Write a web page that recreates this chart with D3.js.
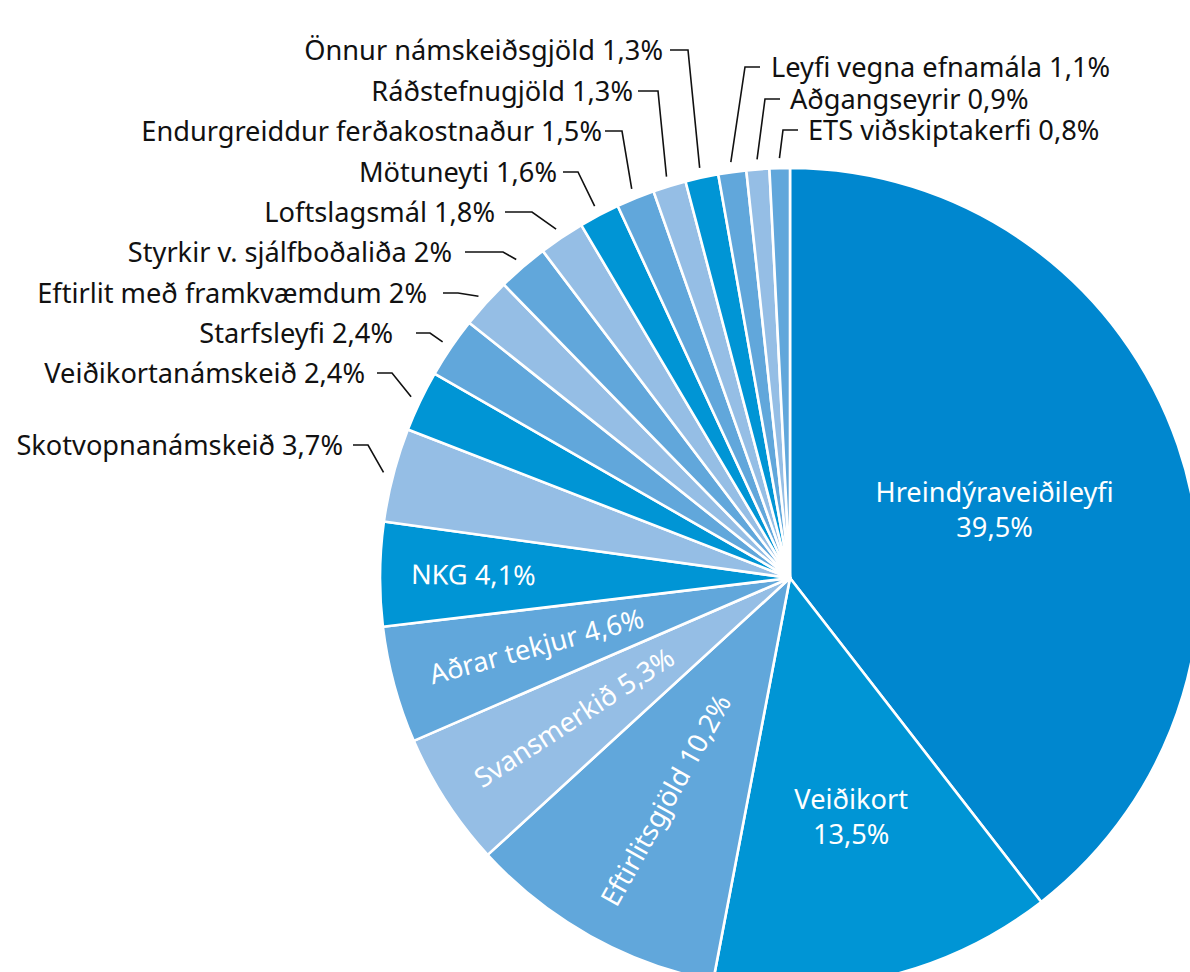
<html>
<head>
<meta charset="utf-8">
<script src="https://cdn.jsdelivr.net/npm/d3@7"></script>
<style>
  body { margin: 0; background: #fff; }
  text { font-family: "Noto Sans", "Open Sans", sans-serif; }
</style>
</head>
<body>
<svg id="chart" width="1190" height="972"></svg>
<script>

// slices, clockwise from 12 o'clock
var names = ["Hreindýraveiðileyfi", "Veiðikort", "Eftirlitsgjöld", "Svansmerkið", "Aðrar tekjur",
  "NKG", "Skotvopnanámskeið", "Veiðikortanámskeið", "Starfsleyfi", "Eftirlit með framkvæmdum",
  "Styrkir v. sjálfboðaliða", "Loftslagsmál", "Mötuneyti", "Endurgreiddur ferðakostnaður",
  "Ráðstefnugjöld", "Önnur námskeiðsgjöld", "Leyfi vegna efnamála", "Aðgangseyrir", "ETS viðskiptakerfi"];
var values = [39.5, 13.5, 10.2, 5.3, 4.6, 4.1, 3.7, 2.4, 2.4, 2, 2, 1.8, 1.6, 1.5, 1.3, 1.3, 1.1, 0.9, 0.8];
var shades = ["top", "dark", "mid", "light", "mid", "dark", "light", "dark", "mid", "light",
  "mid", "light", "dark", "mid", "light", "dark", "mid", "light", "mid"];

var color = d3.scaleOrdinal()
  .domain(["top", "dark", "mid", "light"])
  .range(["#0087cf", "#0095d5", "#61a7db", "#95bee5"]);

var fmt = function(v) { return String(v).replace(".", ",") + "%"; };

var cx = 790, cy = 578, radius = 410;
var fontSize = "27.2px";

var data = names.map(function(n, i) { return {name: n, value: values[i], shade: shades[i]}; });

var pie = d3.pie().sort(null).value(function(d) { return d.value; });
var arcs = pie(data);
var arc = d3.arc().innerRadius(0).outerRadius(radius);

var svg = d3.select("#chart");
var g = svg.append("g").attr("transform", "translate(" + cx + "," + cy + ")");

g.selectAll("path")
  .data(arcs)
  .enter()
  .append("path")
    .attr("d", arc)
    .style("fill", function(d) { return color(d.data.shade); })
    .style("stroke", "#fff")
    .style("stroke-width", 2.6)
    .style("stroke-linejoin", "round");

function polar(r, a) { return [r * Math.sin(a), -r * Math.cos(a)]; }
function mid(d) { return (d.startAngle + d.endAngle) / 2; }

// big slices: two centred lines
var twoLine = {0: {r: 212, ox: 4, oy: 10}, 1: {r: 262, ox: 0, oy: -6}};
Object.keys(twoLine).forEach(function(k) {
  var d = arcs[k], o = twoLine[k];
  var p = polar(o.r, mid(d));
  var t = g.append("text")
    .attr("transform", "translate(" + (p[0] + o.ox) + "," + (p[1] + o.oy) + ")")
    .style("fill", "#fff")
    .style("font-size", fontSize)
    .style("text-anchor", "middle");
  t.append("tspan").attr("x", 0).attr("y", -17.5).text(d.data.name);
  t.append("tspan").attr("x", 0).attr("y", 17.5).text(fmt(d.data.value));
});

// mid slices: text along the radius, reading inwards
[2, 3, 4, 5].forEach(function(i) {
  var d = arcs[i];
  var a = mid(d);
  var r = i == 5 ? 379 : 373;
  var p = polar(r, a);
  g.append("text")
    .attr("transform", "translate(" + p[0] + "," + p[1] + ") rotate(" + (a * 180 / Math.PI - 270) + ")")
    .attr("dy", "0.35em")
    .style("fill", "#fff")
    .style("font-size", fontSize)
    .text(d.data.name + " " + fmt(d.data.value));
});

// small slices: outside labels with leader lines
// [slice, text x, baseline y, line start x, elbow x]
var outside = [
  [6, 343, 455, 353, 368],
  [7, 365, 383, 377, 392],
  [8, 393, 343, 416, 430],
  [9, 427, 303, 443, 458],
  [10, 452, 262, 465, 503],
  [11, 495, 222, 505, 532],
  [12, 557, 182, 563, 578],
  [13, 602, 141, 605, 622],
  [14, 633, 101, 638, 658],
  [15, 663, 60, 670, 688],
  [16, 771, 77, 760, 745],
  [17, 790, 109, 780, 765],
  [18, 808, 140, 798, 783]
];

var lab = svg.append("g");
outside.forEach(function(o) {
  var d = arcs[o[0]];
  var left = o[3] > o[1];
  var ey = o[2] - 10;
  var p = polar(420, mid(d));
  lab.append("path")
    .attr("d", d3.line()([[o[3], ey], [o[4], ey], [cx + p[0], cy + p[1]]]))
    .style("fill", "none")
    .style("stroke", "#111")
    .style("stroke-width", 1.6);
  lab.append("text")
    .attr("x", o[1])
    .attr("y", o[2])
    .style("fill", "#111")
    .style("font-size", fontSize)
    .style("text-anchor", left ? "end" : "start")
    .text(d.data.name + " " + fmt(d.data.value));
});

</script>
</body>
</html>
